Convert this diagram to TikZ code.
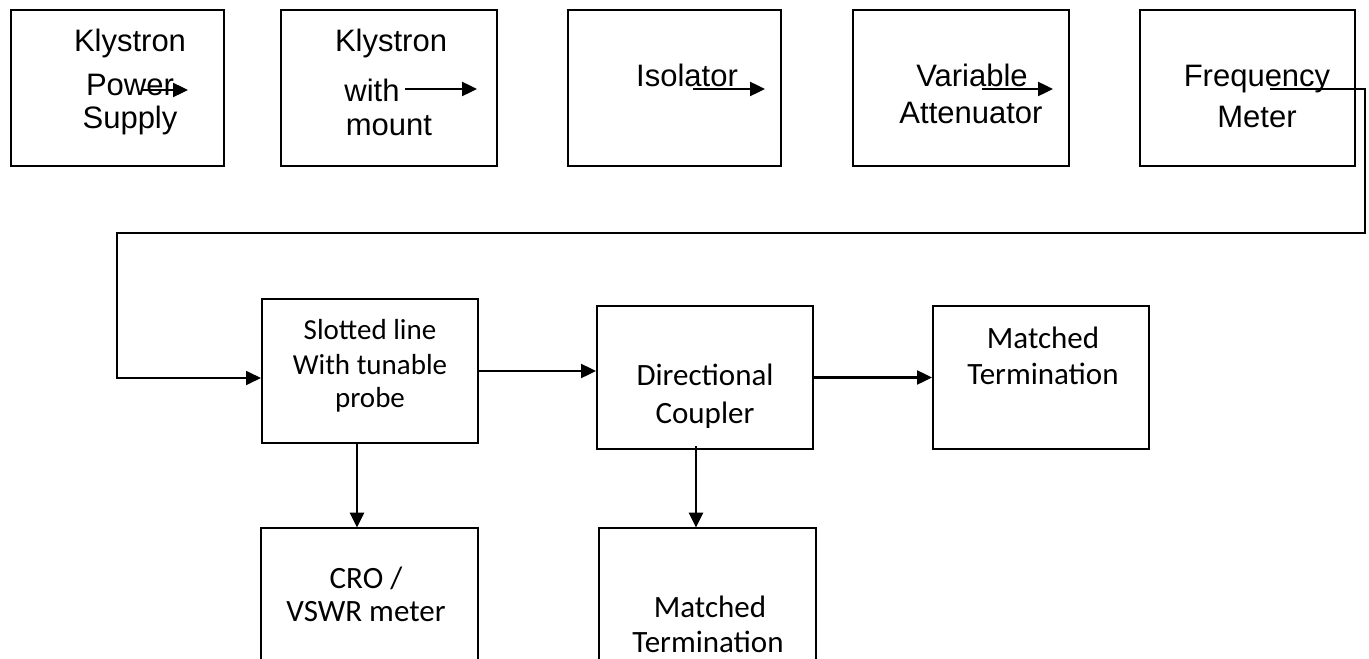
\documentclass[tikz,border=0pt]{standalone}
\usepackage{fontspec}
\newfontfamily\arialf{Liberation Sans}
\newfontfamily\calf{Carlito}
\usetikzlibrary{arrows.meta}
\begin{document}
\begin{tikzpicture}[x=0.5pt,y=-0.5pt,
  topbox/.style={draw,line width=1.25pt,minimum height=78pt,inner sep=0pt},
  botbox/.style={draw,line width=1pt,minimum width=108pt,inner sep=0pt},
  openbox/.style={minimum width=108.5pt,minimum height=80pt,inner sep=0pt},
  openside/.style={line width=1pt},
  atext/.style={anchor=base,inner sep=0pt,font=\arialf\fontsize{15.5}{18}\selectfont},
  ctext/.style={anchor=base,inner sep=0pt,font=\calf\fontsize{15.5}{18.5}\selectfont},
  stext/.style={anchor=base,inner sep=0pt,font=\calf\fontsize{14.5}{17.5}\selectfont},
  arr/.style={line width=1.2pt,-{Triangle[length=7.5pt,width=7pt]}},
  looparr/.style={line width=0.85pt,-{Triangle[length=7.5pt,width=7pt]}}]
\useasboundingbox (0,0) rectangle (1369,658);

% top row boxes
\node[topbox,minimum width=106.5pt] (kps) at (117.5,88) {};
\node[topbox,minimum width=108pt]   (kwm) at (389,88) {};
\node[topbox,minimum width=106.5pt] (iso) at (674.5,88) {};
\node[topbox,minimum width=108pt]   (att) at (961,88) {};
\node[topbox,minimum width=107.5pt] (fm)  at (1247.5,88) {};

% top row texts
\node[atext] (kps1) at (130,52) {Klystron};
\node[atext] (kps2) at (130,96) {Power};
\node[atext] (kps3) at (130,128) {Supply};
\node[atext] (kwm1) at (391,52) {Klystron};
\node[atext] (kwm2) at (372,102) {with};
\node[atext] (kwm3) at (389,135) {mount};
\node[atext] (iso1) at (687,87) {Isolator};
\node[atext] (att1) at (972,87) {Variable};
\node[atext] (att2) at (971,123) {Attenuator};
\node[atext] (fm1)  at (1257,87) {Frequency};
\node[atext] (fm2)  at (1257,127) {Meter};

% top row arrows
\coordinate (a1s) at (142,90);  \coordinate (a1e) at (188,90);
\coordinate (a2s) at (405,89);  \coordinate (a2e) at (477,89);
\coordinate (a3s) at (693,89);  \coordinate (a3e) at (765,89);
\coordinate (a4s) at (982,89);  \coordinate (a4e) at (1053,89);
\draw[arr] (a1s) -- (a1e);
\draw[arr] (a2s) -- (a2e);
\draw[arr] (a3s) -- (a3e);
\draw[arr] (a4s) -- (a4e);

% bottom boxes
\node[botbox,minimum height=72pt]   (slot) at (370,371) {};
\node[botbox,minimum height=71.5pt] (dir)  at (705,377.5) {};
\node[botbox,minimum height=71.5pt] (mt)   at (1041,377.5) {};
\node[openbox] (cro) at (369.5,608) {};
\node[openbox] (mt2) at (707.5,608) {};
\draw[openside] (cro.south west) |- (cro.north east) -- (cro.south east);
\draw[openside] (mt2.south west) |- (mt2.north east) -- (mt2.south east);

% bottom texts
\node[stext] (slot1) at (370,339) {Slotted line};
\node[stext] (slot2) at (370,374) {With tunable};
\node[stext] (slot3) at (370,407) {probe};
\node[ctext] (dir1) at (705,385) {Directional};
\node[ctext] (dir2) at (705,423) {Coupler};
\node[ctext] (mt1a) at (1043,348) {Matched};
\node[ctext] (mt1b) at (1043,384) {Termination};
\node[ctext] (cro1) at (366,588) {CRO /};
\node[ctext] (cro2) at (366,621) {VSWR meter};
\node[ctext] (mt2a) at (710,617) {Matched};
\node[ctext] (mt2b) at (708,652) {Termination};

% feedback loop from frequency meter to slotted line
\coordinate (ls)  at (1270,89);
\coordinate (lc1) at (1365,233);
\coordinate (lc2) at (117,378);
\draw[looparr] (ls) -| (lc1) -| (lc2) -- (lc2 -| slot.west);

% bottom connectors
\draw[arr] (slot.east) -- (slot.east -| dir.west);
\draw[arr] (dir.east) -- (mt.west);
\draw[arr] ([xshift=-6.5pt]slot.south) -- ([xshift=-6.5pt]slot.south |- cro.north);
\draw[arr] ([xshift=-4.5pt,yshift=2pt]dir.south) -- ([xshift=-4.5pt]dir.south |- mt2.north);
\end{tikzpicture}
\end{document}
